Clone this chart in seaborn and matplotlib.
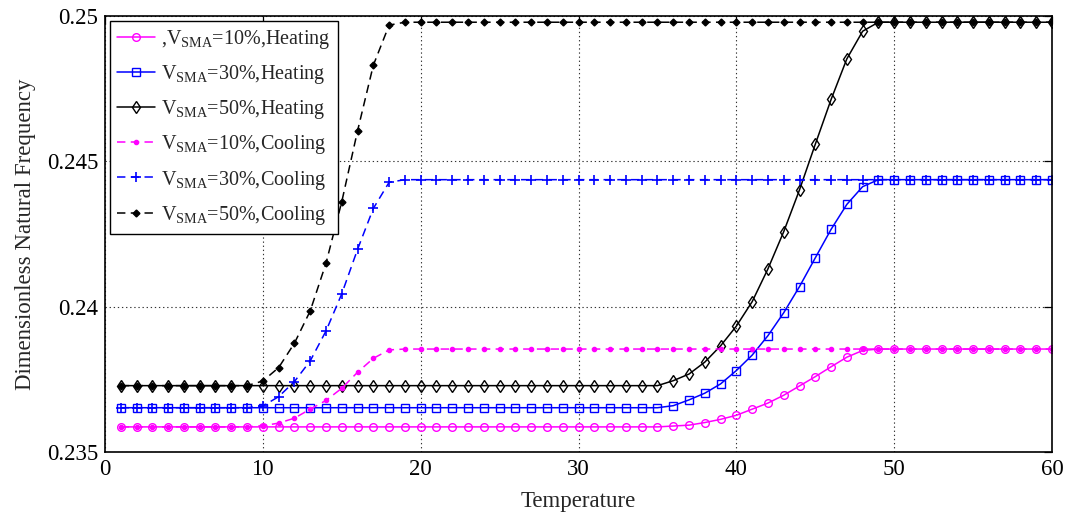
import numpy as np
import pandas as pd
import matplotlib
matplotlib.use("Agg")
import matplotlib.pyplot as plt
import seaborn as sns

# ---------------- data ----------------
temperature = list(range(1, 61))

heat_10 = [0.23586, 0.23586, 0.23586, 0.23586, 0.23586, 0.23586, 0.23586, 0.23586, 0.23586, 0.23586,
           0.23586, 0.23586, 0.23586, 0.23586, 0.23586, 0.23586, 0.23586, 0.23586, 0.23586, 0.23586,
           0.23586, 0.23586, 0.23586, 0.23586, 0.23586, 0.23586, 0.23586, 0.23586, 0.23586, 0.23586,
           0.23586, 0.23586, 0.23586, 0.23586, 0.23586, 0.23589, 0.23592, 0.23601, 0.23612, 0.23626,
           0.23647, 0.23668, 0.23695, 0.23727, 0.23759, 0.23793, 0.23826, 0.23849, 0.23854, 0.23854,
           0.23854, 0.23854, 0.23854, 0.23854, 0.23854, 0.23854, 0.23854, 0.23854, 0.23854, 0.23854]

heat_30 = [0.23652, 0.23652, 0.23652, 0.23652, 0.23652, 0.23652, 0.23652, 0.23652, 0.23652, 0.23652,
           0.23652, 0.23652, 0.23652, 0.23652, 0.23652, 0.23652, 0.23652, 0.23652, 0.23652, 0.23652,
           0.23652, 0.23652, 0.23652, 0.23652, 0.23652, 0.23652, 0.23652, 0.23652, 0.23652, 0.23652,
           0.23652, 0.23652, 0.23652, 0.23652, 0.23652, 0.23659, 0.23679, 0.23702, 0.23734, 0.23780,
           0.23833, 0.23900, 0.23979, 0.24069, 0.24168, 0.24266, 0.24352, 0.24413, 0.24437, 0.24437,
           0.24437, 0.24437, 0.24437, 0.24437, 0.24437, 0.24437, 0.24437, 0.24437, 0.24437, 0.24437]

heat_50 = [0.23728, 0.23728, 0.23728, 0.23728, 0.23728, 0.23728, 0.23728, 0.23728, 0.23728, 0.23728,
           0.23728, 0.23728, 0.23728, 0.23728, 0.23728, 0.23728, 0.23728, 0.23728, 0.23728, 0.23728,
           0.23728, 0.23728, 0.23728, 0.23728, 0.23728, 0.23728, 0.23728, 0.23728, 0.23728, 0.23728,
           0.23728, 0.23728, 0.23728, 0.23728, 0.23728, 0.23745, 0.23768, 0.23809, 0.23865, 0.23933,
           0.24017, 0.24130, 0.24258, 0.24402, 0.24559, 0.24713, 0.24853, 0.24948, 0.24979, 0.24979,
           0.24979, 0.24979, 0.24979, 0.24979, 0.24979, 0.24979, 0.24979, 0.24979, 0.24979, 0.24979]

cool_10 = [0.23586, 0.23586, 0.23586, 0.23586, 0.23586, 0.23586, 0.23586, 0.23586, 0.23586, 0.23590,
           0.23599, 0.23616, 0.23647, 0.23677, 0.23719, 0.23774, 0.23822, 0.23851, 0.23854, 0.23854,
           0.23854, 0.23854, 0.23854, 0.23854, 0.23854, 0.23854, 0.23854, 0.23854, 0.23854, 0.23854,
           0.23854, 0.23854, 0.23854, 0.23854, 0.23854, 0.23854, 0.23854, 0.23854, 0.23854, 0.23854,
           0.23854, 0.23854, 0.23854, 0.23854, 0.23854, 0.23854, 0.23854, 0.23854, 0.23854, 0.23854,
           0.23854, 0.23854, 0.23854, 0.23854, 0.23854, 0.23854, 0.23854, 0.23854, 0.23854, 0.23854]

cool_30 = [0.23652, 0.23652, 0.23652, 0.23652, 0.23652, 0.23652, 0.23652, 0.23652, 0.23652, 0.23658,
           0.23690, 0.23742, 0.23813, 0.23916, 0.24044, 0.24197, 0.24338, 0.24428, 0.24437, 0.24437,
           0.24437, 0.24437, 0.24437, 0.24437, 0.24437, 0.24437, 0.24437, 0.24437, 0.24437, 0.24437,
           0.24437, 0.24437, 0.24437, 0.24437, 0.24437, 0.24437, 0.24437, 0.24437, 0.24437, 0.24437,
           0.24437, 0.24437, 0.24437, 0.24437, 0.24437, 0.24437, 0.24437, 0.24437, 0.24437, 0.24437,
           0.24437, 0.24437, 0.24437, 0.24437, 0.24437, 0.24437, 0.24437, 0.24437, 0.24437, 0.24437]

cool_50 = [0.23728, 0.23728, 0.23728, 0.23728, 0.23728, 0.23728, 0.23728, 0.23728, 0.23728, 0.23744,
           0.23790, 0.23874, 0.23985, 0.24149, 0.24361, 0.24605, 0.24831, 0.24969, 0.24979, 0.24979,
           0.24979, 0.24979, 0.24979, 0.24979, 0.24979, 0.24979, 0.24979, 0.24979, 0.24979, 0.24979,
           0.24979, 0.24979, 0.24979, 0.24979, 0.24979, 0.24979, 0.24979, 0.24979, 0.24979, 0.24979,
           0.24979, 0.24979, 0.24979, 0.24979, 0.24979, 0.24979, 0.24979, 0.24979, 0.24979, 0.24979,
           0.24979, 0.24979, 0.24979, 0.24979, 0.24979, 0.24979, 0.24979, 0.24979, 0.24979, 0.24979]

series_labels = [
    r",V$_{\mathrm{SMA}}$=10%,Heating",
    r"V$_{\mathrm{SMA}}$=30%,Heating",
    r"V$_{\mathrm{SMA}}$=50%,Heating",
    r"V$_{\mathrm{SMA}}$=10%,Cooling",
    r"V$_{\mathrm{SMA}}$=30%,Cooling",
    r"V$_{\mathrm{SMA}}$=50%,Cooling",
]
x_ticks = [0, 10, 20, 30, 40, 50, 60]
y_ticks = [0.235, 0.24, 0.245, 0.25]
y_tick_labels = ["0.235", "0.24", "0.245", "0.25"]
x_label = "Temperature"
y_label = "Dimensionless Natural Frequency"

# ---------------- style ----------------
sns.set_theme(style="white")
plt.rcParams["font.family"] = ["Liberation Serif", "DejaVu Serif"]
plt.rcParams["mathtext.fontset"] = "custom"
plt.rcParams["mathtext.rm"] = "Liberation Serif"
plt.rcParams["mathtext.it"] = "Liberation Serif:italic"
plt.rcParams["mathtext.bf"] = "Liberation Serif:bold"

fig = plt.figure(figsize=(10.67, 5.20), dpi=100)
ax = fig.add_axes([0.0984, 0.131, 0.8876, 0.838])

dash = (0, (5.5, 3.5))
styles = [
    dict(color="#FF00FF", marker="o", ms=5.5, mfc="none", mew=1.0, ls="-"),
    dict(color="#0000FF", marker="s", ms=5.5, mfc="none", mew=1.0, ls="-"),
    dict(color="#000000", marker="d", ms=6, mfc="none", mew=1.0, ls="-"),
    dict(color="#FF00FF", marker=".", ms=6, mfc="#FF00FF", mew=1.0, ls=dash),
    dict(color="#0000FF", marker="+", ms=7, mew=1.2, ls=dash),
    dict(color="#000000", marker="D", ms=3.5, mfc="#000000", mew=1.0, ls=dash),
]
all_series = [heat_10, heat_30, heat_50, cool_10, cool_30, cool_50]

for vals, lab, st in zip(all_series, series_labels, styles):
    st = dict(st)
    color = st.pop("color")
    ls = st.pop("ls")
    sns.lineplot(x=temperature, y=vals, ax=ax, color=color, linestyle=ls,
                 linewidth=1.1, label=lab, mec=color, **st)

ax.set_xlim(0, 60)
ax.set_ylim(0.235, 0.25)
ax.set_xticks(x_ticks)
ax.set_xticklabels([str(v) for v in x_ticks])
ax.set_yticks(y_ticks)
ax.set_yticklabels(y_tick_labels)

ax.grid(True, color="#333333", linestyle=(0, (1.2, 2.5)), linewidth=0.8)
ax.tick_params(axis="both", direction="in", length=6, width=0.9, labelsize=16.5,
               top=True, right=True, colors="black", pad=5)
for sp in ax.spines.values():
    sp.set_color("black")
    sp.set_linewidth(1.2)

ax.set_xlabel(x_label, fontsize=16.5, labelpad=8)
ax.set_ylabel(y_label, fontsize=16.5, labelpad=8)

leg = ax.legend(loc="upper left", fontsize=14.5, frameon=True, fancybox=False,
                edgecolor="black", framealpha=1, borderaxespad=0.25,
                handlelength=1.9, handletextpad=0.3, labelspacing=0.6,
                borderpad=0.35)
leg.get_frame().set_linewidth(1.0)

fig.savefig("out.png", dpi=100)
